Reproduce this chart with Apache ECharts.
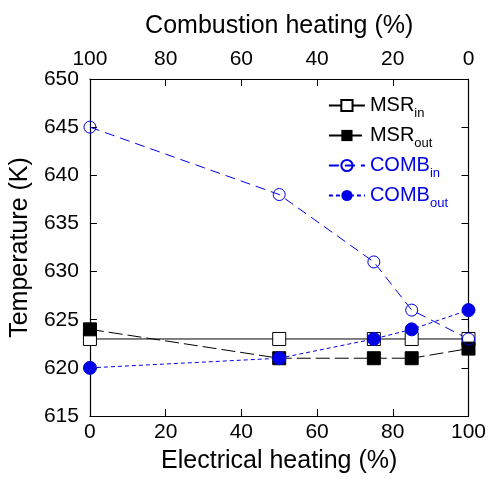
<!DOCTYPE html>
<html>
<head>
    <meta charset="utf-8">
    <script src="https://cdn.jsdelivr.net/npm/echarts@6/dist/echarts.min.js"></script>
</head>
<body style="margin:0">
<div id="main" style="width: 489px;height:479px;"></div>
<script type="text/javascript">
    // 数据
    var electrical = [0, 50, 75, 85, 100];
    var msrIn = [623, 623, 623, 623, 623];
    var msrOut = [624, 621, 621, 621, 622];
    var combIn = [645, 638, 631, 626, 623];
    var combOut = [620, 621, 623, 624, 626];

    var pairs = function (ys) {
        var out = [];
        for (var i = 0; i < electrical.length; i++) {
            out.push([electrical[i], ys[i]]);
        }
        return out;
    };

    var font = 'Liberation Sans, Arial, sans-serif';
    var blue = '#0000e6';
    var myChart = echarts.init(document.getElementById('main'));

    var legendNames = {
        'MSR_in': '{k|MSR}{ks|in}',
        'MSR_out': '{k|MSR}{ks|out}',
        'COMB_in': '{b|COMB}{bs|in}',
        'COMB_out': '{b|COMB}{bs|out}'
    };

    var tickLabel = { fontFamily: font, fontSize: 21, color: '#000' };
    var nameStyle = { fontFamily: font, fontSize: 25, color: '#000' };

    var option = {
        animation: false,
        backgroundColor: '#fff',
        grid: { left: 89, right: 19, top: 79, bottom: 61 },
        legend: {
            orient: 'vertical',
            right: 36,
            top: 86,
            itemGap: 1,
            itemWidth: 36,
            itemHeight: 14,
            formatter: function (n) { return legendNames[n]; },
            textStyle: {
                rich: {
                    k: { fontFamily: font, fontSize: 20, color: '#000', lineHeight: 22 },
                    ks: { fontFamily: font, fontSize: 13, color: '#000', lineHeight: 14, padding: [16, 0, 0, 0] },
                    b: { fontFamily: font, fontSize: 20, color: blue, lineHeight: 22 },
                    bs: { fontFamily: font, fontSize: 13, color: blue, lineHeight: 14, padding: [16, 0, 0, 0] }
                }
            },
            data: ['MSR_in', 'MSR_out', 'COMB_in', 'COMB_out']
        },
        xAxis: [
            {
                type: 'value', position: 'bottom', min: 0, max: 100, interval: 20,
                name: 'Electrical heating (%)', nameLocation: 'middle', nameGap: 33,
                nameTextStyle: nameStyle,
                axisLine: { lineStyle: { color: '#000', width: 1.2 } },
                axisTick: { inside: true, length: 7, lineStyle: { color: '#000' } },
                axisLabel: Object.assign({ margin: 6 }, tickLabel),
                splitLine: { show: false }
            },
            {
                type: 'value', position: 'top', min: 0, max: 100, interval: 20, inverse: true,
                name: 'Combustion heating (%)', nameLocation: 'middle', nameGap: 40,
                nameTextStyle: nameStyle,
                axisLine: { lineStyle: { color: '#000', width: 1.2 } },
                axisTick: { inside: true, length: 7, lineStyle: { color: '#000' } },
                axisLabel: Object.assign({ margin: 9 }, tickLabel),
                splitLine: { show: false }
            }
        ],
        yAxis: [
            {
                type: 'value', position: 'left', min: 615, max: 650, interval: 5,
                name: 'Temperature (K)', nameLocation: 'middle', nameGap: 54,
                nameTextStyle: nameStyle,
                axisLine: { show: true, lineStyle: { color: '#000', width: 1.2 } },
                axisTick: { show: true, inside: true, length: 7, lineStyle: { color: '#000' } },
                axisLabel: Object.assign({ margin: 11 }, tickLabel),
                splitLine: { show: false }
            },
            {
                type: 'value', position: 'right', min: 615, max: 650, interval: 5,
                axisLine: { show: true, lineStyle: { color: '#000', width: 1.2 } },
                axisTick: { show: true, inside: true, length: 7, lineStyle: { color: '#000' } },
                axisLabel: { show: false },
                splitLine: { show: false }
            }
        ],
        series: [
            {
                name: 'MSR_in', type: 'line', data: pairs(msrIn),
                symbol: 'rect', symbolSize: 13,
                lineStyle: { color: '#000', width: 1 },
                itemStyle: { color: '#fff', borderColor: '#000', borderWidth: 1 }
            },
            {
                name: 'MSR_out', type: 'line', data: pairs(msrOut),
                symbol: 'rect', symbolSize: 13,
                lineStyle: { color: '#000', width: 1, type: [14, 5] },
                itemStyle: { color: '#000', borderColor: '#000' }
            },
            {
                name: 'COMB_in', type: 'line', data: pairs(combIn),
                symbol: 'circle', symbolSize: 12,
                lineStyle: { color: blue, width: 1, type: [10, 6] },
                itemStyle: { color: 'rgba(255,255,255,0)', borderColor: blue, borderWidth: 1 }
            },
            {
                name: 'COMB_out', type: 'line', data: pairs(combOut),
                symbol: 'circle', symbolSize: 13,
                lineStyle: { color: blue, width: 1, type: [4, 3] },
                itemStyle: { color: blue, borderColor: blue }
            }
        ]
    };

    myChart.setOption(option);
</script>
</body>
</html>
